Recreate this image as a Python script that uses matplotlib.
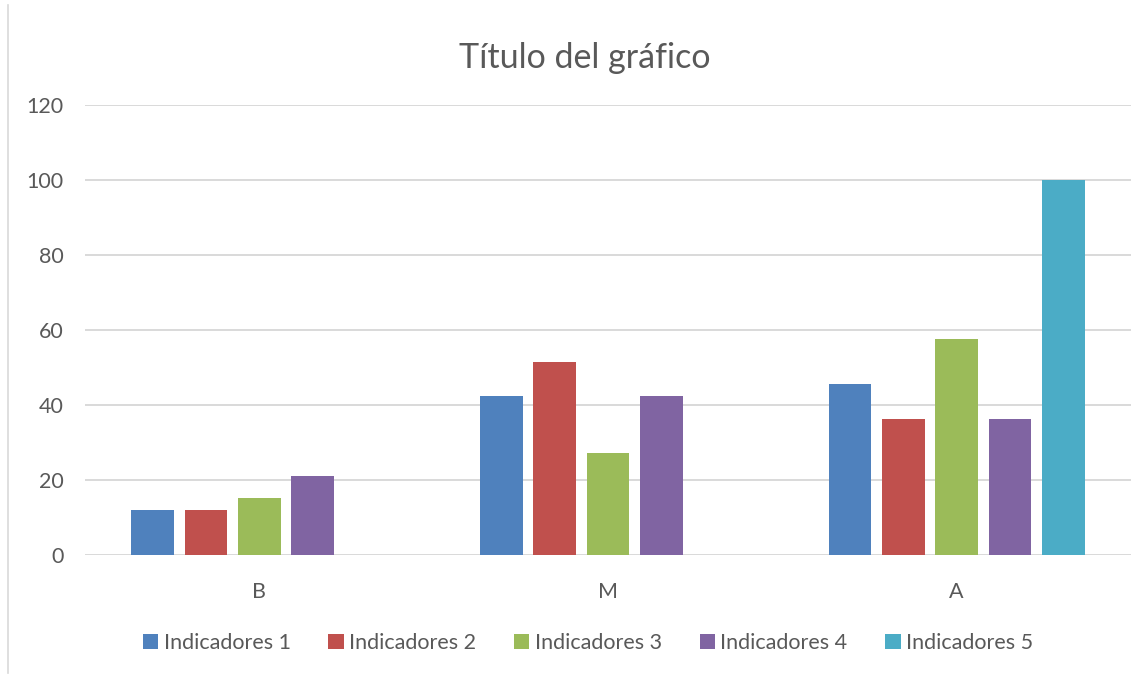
import matplotlib
matplotlib.use("Agg")
import matplotlib.pyplot as plt
from matplotlib.lines import Line2D
from matplotlib.patches import Patch
import numpy as np

categories = ["B", "M", "A"]
series_names = ["Indicadores 1", "Indicadores 2", "Indicadores 3", "Indicadores 4", "Indicadores 5"]
ind1 = [12, 42.4, 45.5]
ind2 = [12, 51.5, 36.4]
ind3 = [15.2, 27.3, 57.6]
ind4 = [21.2, 42.4, 36.4]
ind5 = [0, 0, 100]
yticks = [0, 20, 40, 60, 80, 100, 120]
title = "Título del gráfico"

colors = ["#4F81BD", "#C0504D", "#9BBB59", "#8064A2", "#4BACC6"]
text_color = "#595959"
grid_color = "#D9D9D9"

plt.rcParams['font.family'] = ['Lato', 'DejaVu Sans']

fig = plt.figure(figsize=(11.47, 6.74), dpi=100)
ax = fig.add_axes([85/1147, (674-555)/674, (1131-85)/1147, (555-105)/674])

x = np.arange(len(categories))
step = 0.153
width = 0.123
all_series = [ind1, ind2, ind3, ind4, ind5]
for i, (vals, name, c) in enumerate(zip(all_series, series_names, colors)):
    ax.bar(x + (i - 2) * step, vals, width=width, color=c, label=name, linewidth=0, zorder=3)

ax.set_xlim(-0.5, 2.5)
ax.set_ylim(0, 120)
ax.set_yticks(yticks)
ax.set_xticks(x)
ax.set_xticklabels(categories)
ax.yaxis.grid(True, color=grid_color, linewidth=1.4, zorder=0)
for s in ax.spines.values():
    s.set_visible(False)
ax.tick_params(axis='both', length=0, labelsize=15.5, labelcolor=text_color)
ax.tick_params(axis='y', pad=15.5)
ax.tick_params(axis='x', pad=19.5)

fig.text(585/1147, 1 - 58/674, title, ha='center', va='center', fontsize=24.5, color=text_color)

handles = [Patch(facecolor=c, edgecolor='none') for c in colors]
leg = fig.legend(handles, series_names, loc='center', bbox_to_anchor=(588/1147, 1 - 643/674),
                 ncol=5, frameon=False, fontsize=15.5, handlelength=0.72, handleheight=0.72,
                 handletextpad=0.25, columnspacing=1.75, labelcolor=text_color)

fig.add_artist(Line2D([8/1147, 8/1147], [1 - 673/674, 1 - 5/674], transform=fig.transFigure,
                      color=grid_color, linewidth=1.2))

fig.savefig("out.png", dpi=100)
